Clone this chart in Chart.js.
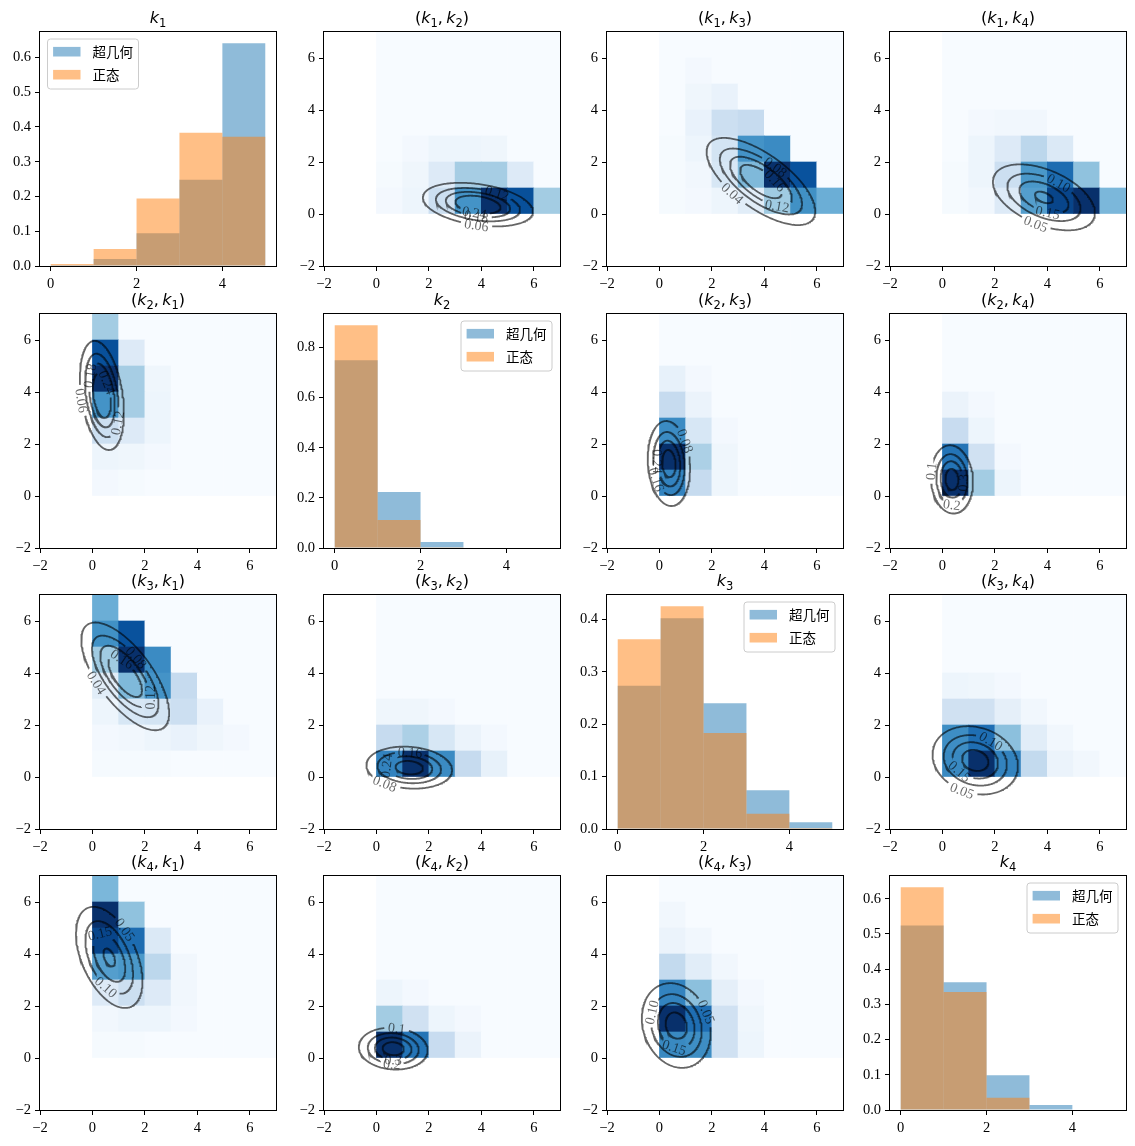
<!DOCTYPE html>
<html>
<head>
<meta charset="utf-8">
<script src="https://cdn.jsdelivr.net/npm/chart.js@4.4.1/dist/chart.umd.min.js"></script>
<style>
  body { margin: 0; background: #fff; }
  #wrap { position: relative; width: 1135px; height: 1146px; background: #fff; overflow: hidden; }
  #wrap canvas { position: absolute; }
</style>
</head>
<body>
<div id="wrap"></div>
<script>
// ---- data ----
const SERIES_NAMES = ['超几何', '正态'];
const BIN_CENTERS = [0.5, 1.5, 2.5, 3.5, 4.5];
const K1_HYPER = [0.003, 0.020, 0.094, 0.248, 0.641];
const K1_NORMAL = [0.006, 0.049, 0.194, 0.383, 0.372];
const K2_HYPER = [0.749, 0.223, 0.024, 0, 0];
const K2_NORMAL = [0.889, 0.112, 0.001, 0, 0];
const K3_HYPER = [0.273, 0.402, 0.240, 0.074, 0.013];
const K3_NORMAL = [0.362, 0.425, 0.183, 0.029, 0.002];
const K4_HYPER = [0.524, 0.363, 0.099, 0.014, 0];
const K4_NORMAL = [0.633, 0.335, 0.035, 0, 0];

const HIST_X_TICKS = [0, 2, 4];
const HIST_Y_TICKS = [
  [0, 0.1, 0.2, 0.3, 0.4, 0.5, 0.6],
  [0, 0.2, 0.4, 0.6, 0.8],
  [0, 0.1, 0.2, 0.3, 0.4],
  [0, 0.1, 0.2, 0.3, 0.4, 0.5, 0.6]
];
const HEAT_TICKS = [-2, 0, 2, 4, 6];

// 2D histograms: cell intensity in % of the darkest cell
// rows = value of the 2nd variable (0..6, bottom up), cols = value of the 1st variable (0..6)
const HEAT_K1K2 = [
  [2, 5, 22, 62, 100, 88, 36],
  [1, 4, 13, 35, 35, 13, 0],
  [0, 2, 5, 5, 4, 0, 0],
  [0, 0, 0, 0, 0, 0, 0],
  [0, 0, 0, 0, 0, 0, 0],
  [0, 0, 0, 0, 0, 0, 0],
  [0, 0, 0, 0, 0, 0, 0]
];
const HEAT_K1K3 = [
  [1, 2, 5, 11, 37, 63, 50],
  [1, 3, 16, 45, 100, 87, 0],
  [1, 5, 18, 62, 65, 0, 0],
  [0, 7, 22, 25, 0, 0, 0],
  [0, 4, 7, 0, 0, 0, 0],
  [0, 2, 0, 0, 0, 0, 0],
  [0, 0, 0, 0, 0, 0, 0]
];
const HEAT_K1K4 = [
  [1, 3, 13, 57, 92, 100, 46],
  [1, 5, 22, 60, 77, 41, 0],
  [0, 5, 13, 28, 14, 0, 0],
  [0, 2, 3, 3, 0, 0, 0],
  [0, 0, 0, 0, 0, 0, 0],
  [0, 0, 0, 0, 0, 0, 0],
  [0, 0, 0, 0, 0, 0, 0]
];
const HEAT_K2K3 = [
  [68, 25, 4, 0, 0, 0, 0],
  [100, 33, 4, 0, 0, 0, 0],
  [65, 16, 2, 0, 0, 0, 0],
  [25, 6, 0, 0, 0, 0, 0],
  [8, 2, 0, 0, 0, 0, 0],
  [0, 0, 0, 0, 0, 0, 0],
  [0, 0, 0, 0, 0, 0, 0]
];
const HEAT_K2K4 = [
  [100, 36, 5, 0, 0, 0, 0],
  [74, 20, 2, 0, 0, 0, 0],
  [24, 5, 0, 0, 0, 0, 0],
  [6, 2, 0, 0, 0, 0, 0],
  [0, 0, 0, 0, 0, 0, 0],
  [0, 0, 0, 0, 0, 0, 0],
  [0, 0, 0, 0, 0, 0, 0]
];
const HEAT_K3K4 = [
  [66, 100, 68, 26, 6, 3, 0],
  [64, 76, 42, 11, 3, 0, 0],
  [20, 20, 9, 3, 0, 0, 0],
  [5, 4, 2, 0, 0, 0, 0],
  [0, 0, 0, 0, 0, 0, 0],
  [0, 0, 0, 0, 0, 0, 0],
  [0, 0, 0, 0, 0, 0, 0]
];

// normal approximation used for the contour lines
const MEAN = [3.87, 0.36, 1.25, 0.64];
const SD = [1.15, 0.46, 0.93, 0.75];
const RHO_K1K2 = -0.32, RHO_K1K3 = -0.68, RHO_K1K4 = -0.47;
const RHO_K2K3 = -0.12, RHO_K2K4 = -0.08, RHO_K3K4 = -0.17;
const LEVELS_K1K2 = [0.06, 0.12, 0.18, 0.24];
const LEVELS_K1K3 = [0.04, 0.08, 0.12, 0.16];
const LEVELS_K1K4 = [0.05, 0.10, 0.15, 0.20];
const LEVELS_K2K3 = [0.08, 0.16, 0.24, 0.32];
const LEVELS_K2K4 = [0.1, 0.2, 0.3, 0.4];
const LEVELS_K3K4 = [0.05, 0.10, 0.15, 0.20];

// ---- layout / style ----
const AX_L = [40, 324, 607, 890];
const AX_T = [32, 314, 595, 876];
const AX_W = 236, AX_H = 234;
const PAD_L = 45, PAD_T = 30, PAD_R = 5, PAD_B = 30;
const BLUE_A = 'rgba(31,119,180,0.5)';
const ORANGE_A = 'rgba(255,127,14,0.5)';
const CONTOUR_COLOR = 'rgba(0,0,0,0.6)';
const TICK_FONT = { family: 'Liberation Serif', size: 14.5 };
const LABEL_FONT = '14px "Liberation Serif"';

// contour label direction (deg, seen from the ellipse centre) per panel "x,y"
const LABEL_DIR = {
  '0,1': [-94, 31, -100, -115], '1,0': [-166, -60, 122, 67],
  '0,2': [-158, 45, -56, 5],    '2,0': [-167, 60, -40, 100],
  '0,3': [-107, 45, -76, null], '3,0': [60, -96, 111, null],
  '1,2': [54, -127, 170, null], '2,1': [-147, 86, 175, null],
  '1,3': [160, -90, -16, null], '3,1': [80, -95, -90, null],
  '2,3': [-114, 51, -145, null], '3,2': [24, 152, -95, null]
};

const HYPER = [K1_HYPER, K2_HYPER, K3_HYPER, K4_HYPER];
const NORMAL = [K1_NORMAL, K2_NORMAL, K3_NORMAL, K4_NORMAL];
const HEAT = { '0,1': HEAT_K1K2, '0,2': HEAT_K1K3, '0,3': HEAT_K1K4, '1,2': HEAT_K2K3, '1,3': HEAT_K2K4, '2,3': HEAT_K3K4 };
const RHO = { '0,1': RHO_K1K2, '0,2': RHO_K1K3, '0,3': RHO_K1K4, '1,2': RHO_K2K3, '1,3': RHO_K2K4, '2,3': RHO_K3K4 };
const LEVELS = { '0,1': LEVELS_K1K2, '0,2': LEVELS_K1K3, '0,3': LEVELS_K1K4, '1,2': LEVELS_K2K3, '1,3': LEVELS_K2K4, '2,3': LEVELS_K3K4 };

// matplotlib "Blues"
const BLUES = [[247,251,255],[222,235,247],[198,219,239],[158,202,225],[107,174,214],[66,146,198],[33,113,181],[8,81,156],[8,48,107]];
function blues(v) {
  v = Math.max(0, Math.min(1, v));
  const p = v * 8, i = Math.min(7, Math.floor(p)), f = p - i;
  const a = BLUES[i], b = BLUES[i + 1];
  return 'rgb(' + a.map((c, k) => Math.round(c + (b[k] - c) * f)).join(',') + ')';
}

const measureCtx = document.createElement('canvas').getContext('2d');
function measure(text, font) { measureCtx.font = font; return measureCtx.measureText(text).width; }

const fmtInt = v => (v < 0 ? '\u2212' + Math.abs(v) : String(v));
const fmt1 = v => v.toFixed(1);

function axis(min, max, ticks, fmt, horizontal) {
  return {
    type: 'linear', min, max, offset: false,
    afterBuildTicks: s => { s.ticks = ticks.map(v => ({ value: v })); },
    afterFit: s => { if (horizontal) s.height = PAD_B; else s.width = PAD_L; },
    ticks: { callback: v => fmt(v), color: '#000', font: TICK_FONT, padding: 4, maxRotation: 0, autoSkip: false },
    grid: { offset: false, drawOnChartArea: false, drawTicks: true, tickLength: 5, color: '#000', lineWidth: 1 },
    border: { display: false }
  };
}

// frame, title, legend, contour labels
const panelDecor = {
  id: 'panelDecor',
  afterDatasetsDraw(chart, args, opts) {
    const ctx = chart.ctx, ca = chart.chartArea;
    const xs = chart.scales.x, ys = chart.scales.y;
    ctx.save();
    // contour labels
    ctx.font = LABEL_FONT;
    ctx.fillStyle = CONTOUR_COLOR;
    ctx.textAlign = 'center';
    ctx.textBaseline = 'middle';
    (opts.labels || []).forEach(l => {
      ctx.save();
      ctx.translate(xs.getPixelForValue(l.x), ys.getPixelForValue(l.y));
      ctx.rotate(l.ang);
      ctx.fillText(l.text, 0, 1);
      ctx.restore();
    });
    // frame
    ctx.strokeStyle = '#000';
    ctx.lineWidth = 1;
    ctx.strokeRect(ca.left - 0.5, ca.top - 0.5, ca.width + 1, ca.height + 1);
    // title (mathtext-like)
    const segs = opts.title || [];
    const fonts = { n: '16px "DejaVu Sans"', i: 'italic 16px "DejaVu Sans"', s: '11.5px "DejaVu Sans"' };
    let total = 0;
    segs.forEach(s => { total += measure(s[0], fonts[s[1]]); });
    let x = (ca.left + ca.right) / 2 - total / 2;
    const base = ca.top - 9;
    ctx.fillStyle = '#000';
    ctx.textAlign = 'left';
    ctx.textBaseline = 'alphabetic';
    segs.forEach(s => {
      ctx.font = fonts[s[1]];
      ctx.fillText(s[0], x, s[1] === 's' ? base + 3.5 : base);
      x += measure(s[0], fonts[s[1]]);
    });
    // legend
    if (opts.legend) {
      const w = 91, h = 50;
      const x0 = opts.legend === 'left' ? ca.left + 7.5 : ca.right - 8 - w;
      const y0 = ca.top + 7;
      ctx.beginPath();
      ctx.roundRect(x0, y0, w, h, 3);
      ctx.fillStyle = 'rgba(255,255,255,0.8)';
      ctx.fill();
      ctx.strokeStyle = '#cccccc';
      ctx.lineWidth = 1;
      ctx.stroke();
      ctx.font = '13.5px "Noto Sans CJK SC"';
      ctx.textBaseline = 'middle';
      [[BLUE_A, SERIES_NAMES[0], 12.7], [ORANGE_A, SERIES_NAMES[1], 35.7]].forEach(([col, name, dy]) => {
        ctx.fillStyle = col;
        ctx.fillRect(x0 + 5.6, y0 + dy - 4.8, 27.4, 9.6);
        ctx.fillStyle = '#000';
        ctx.fillText(name, x0 + 45, y0 + dy + 0.5);
      });
    }
    ctx.restore();
  }
};

const common = {
  responsive: false, animation: false, devicePixelRatio: 1,
  layout: { padding: { left: 0, top: PAD_T, right: PAD_R, bottom: 0 } },
  interaction: { mode: null },
  events: []
};

function histChart(cv, v) {
  const hyper = HYPER[v], normal = NORMAL[v];
  const top = 1.05 * Math.max(...hyper, ...normal);
  const bar = { grouped: false, barPercentage: 1, categoryPercentage: 1, inflateAmount: 0, borderWidth: 0 };
  new Chart(cv, {
    type: 'bar',
    data: {
      datasets: [
        { ...bar, label: SERIES_NAMES[0], data: BIN_CENTERS.map((x, i) => ({ x, y: hyper[i] })), backgroundColor: BLUE_A, order: 2 },
        { ...bar, label: SERIES_NAMES[1], data: BIN_CENTERS.map((x, i) => ({ x, y: normal[i] })), backgroundColor: ORANGE_A, order: 1 }
      ]
    },
    options: {
      ...common,
      scales: {
        x: axis(-0.25, 5.25, HIST_X_TICKS, fmtInt, true),
        y: axis(0, top, HIST_Y_TICKS[v], fmt1, false)
      },
      plugins: {
        legend: { display: false }, tooltip: { enabled: false },
        panelDecor: { title: [['k', 'i'], [String(v + 1), 's']], legend: v === 0 ? 'left' : 'right' }
      }
    },
    plugins: [panelDecor]
  });
}

function contours(xv, yv) {
  const key = Math.min(xv, yv) + ',' + Math.max(xv, yv);
  const rho = RHO[key], levels = LEVELS[key];
  const mx = MEAN[xv], my = MEAN[yv], sx = SD[xv], sy = SD[yv];
  const c = Math.sqrt(1 - rho * rho);
  const peak = 1 / (2 * Math.PI * sx * sy * c);
  const dec = Math.max(...levels.map(l => (String(l).split('.')[1] || '').length));
  const dirs = LABEL_DIR[xv + ',' + yv];
  const ux = AX_W / 9, uy = AX_H / 9;
  const pxd = (a, b) => Math.hypot((a.x - b.x) * ux, (a.y - b.y) * uy);
  const sets = [], labels = [];
  const N = 240;
  levels.forEach((lv, li) => {
    if (lv >= peak) return;
    const rr = Math.sqrt(2 * Math.log(peak / lv));
    const pts = [];
    for (let k = 0; k < N; k++) {
      const t = 2 * Math.PI * k / N;
      pts.push({ x: mx + sx * rr * Math.cos(t), y: my + sy * rr * (rho * Math.cos(t) + c * Math.sin(t)) });
    }
    let perim = 0;
    for (let k = 0; k < N; k++) perim += pxd(pts[k], pts[(k + 1) % N]);
    const text = lv.toFixed(dec);
    const half = (measure(text, LABEL_FONT) + 6) / 2;
    const phi = dirs[li];
    if (phi == null || perim < 4 * half) { sets.push([...pts, pts[0]]); return; }
    let best = 0, bd = 1e9;
    pts.forEach((p, k) => {
      const a = Math.atan2((p.y - my) * uy, (p.x - mx) * ux) * 180 / Math.PI;
      const d = Math.abs((((a - phi) % 360) + 540) % 360 - 180);
      if (d < bd) { bd = d; best = k; }
    });
    let f = best, acc = 0;
    while (acc < half) { const n = (f + 1) % N; acc += pxd(pts[f], pts[n]); f = n; }
    let b = best; acc = 0;
    while (acc < half) { const n = (b - 1 + N) % N; acc += pxd(pts[b], pts[n]); b = n; }
    const line = [];
    for (let k = f; ; k = (k + 1) % N) { line.push(pts[k]); if (k === b) break; }
    sets.push(line);
    const p0 = pts[(best - 1 + N) % N], p1 = pts[(best + 1) % N];
    let ang = Math.atan2(-(p1.y - p0.y) * uy, (p1.x - p0.x) * ux);
    if (ang > Math.PI / 2) ang -= Math.PI;
    if (ang < -Math.PI / 2) ang += Math.PI;
    labels.push({ x: pts[best].x, y: pts[best].y, ang, text });
  });
  return { sets, labels };
}

function pairChart(cv, xv, yv) {
  const datasets = [];
  const cell = (a, b) => (xv < yv ? HEAT[xv + ',' + yv][b][a] : HEAT[yv + ',' + xv][a][b]);
  for (let yi = 0; yi < 7; yi++) {
    const data = [], colors = [];
    for (let xi = 0; xi < 7; xi++) {
      data.push({ x: xi + 0.5, y: [yi, yi + 1] });
      colors.push(blues(cell(xi, yi) / 100));
    }
    datasets.push({ type: 'bar', data, backgroundColor: colors, grouped: false, barPercentage: 1, categoryPercentage: 1, borderWidth: 0, order: 10 });
  }
  const { sets, labels } = contours(xv, yv);
  sets.forEach(pts => datasets.push({
    type: 'line', data: pts, borderColor: CONTOUR_COLOR, borderWidth: 1.8,
    pointRadius: 0, tension: 0, fill: false, order: 0
  }));
  new Chart(cv, {
    type: 'bar',
    data: { datasets },
    options: {
      ...common,
      scales: {
        x: axis(-2, 7, HEAT_TICKS, fmtInt, true),
        y: axis(-2, 7, HEAT_TICKS, fmtInt, false)
      },
      plugins: {
        legend: { display: false }, tooltip: { enabled: false },
        panelDecor: {
          labels,
          title: [['(', 'n'], ['k', 'i'], [String(xv + 1), 's'], [',\u2009', 'n'], ['k', 'i'], [String(yv + 1), 's'], [')', 'n']]
        }
      }
    },
    plugins: [panelDecor]
  });
}

const wrap = document.getElementById('wrap');
for (let r = 0; r < 4; r++) {
  for (let c = 0; c < 4; c++) {
    const cv = document.createElement('canvas');
    cv.width = PAD_L + AX_W + PAD_R;
    cv.height = PAD_T + AX_H + PAD_B;
    cv.style.left = (AX_L[c] - PAD_L) + 'px';
    cv.style.top = (AX_T[r] - PAD_T) + 'px';
    wrap.appendChild(cv);
    if (r === c) histChart(cv, r);
    else pairChart(cv, r, c);
  }
}
</script>
</body>
</html>
